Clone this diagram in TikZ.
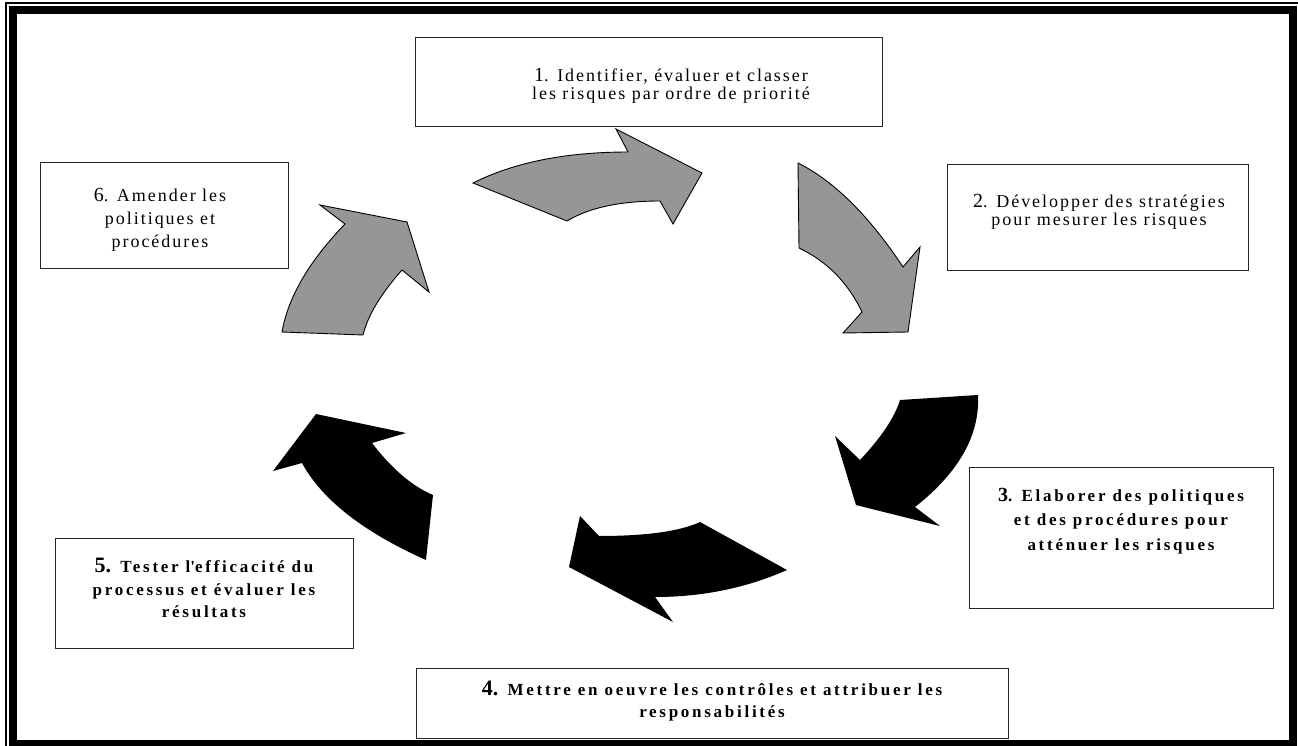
\documentclass[tikz,border=0pt]{standalone}
\usepackage{fontspec}
\setmainfont{Liberation Serif}[LetterSpace=11]
\newfontfamily\numfont{Liberation Serif}
\usetikzlibrary{positioning}
\definecolor{arrowgray}{HTML}{969696}
\newcommand\stepno[1]{{\numfont\fontsize{20}{20}\selectfont #1}}
\newcommand\boldno[1]{{\numfont\fontsize{22}{22}\selectfont\bfseries #1}}

\begin{document}
\begin{tikzpicture}[x=1pt,y=-1pt,
  box/.style={draw=black!85, line width=1pt, inner sep=0pt, anchor=north west},
  txt/.style={font=\fontsize{18}{18}\selectfont, align=center, inner sep=0pt},
  boldtxt/.style={font=\fontsize{17}{24.5}\selectfont\bfseries\addfontfeature{LetterSpace=16}, align=center, inner sep=0pt},
  grayarrow/.style={fill=arrowgray, draw=black, line width=0.9pt, line join=miter},
  blackarrow/.style={fill=black}]

\useasboundingbox (0,0) rectangle (1298,746);

% page frame
\draw[line width=1.7pt] (6,746) -- (6,2.7) -- (1298,2.7);
\draw[line width=8.2pt] (12.8,9.9) rectangle (1292.8,744.2);

% boxes
\node[box, minimum width=467, minimum height=89] (b1) at (415,37) {};
\node[box, minimum width=301, minimum height=106] (b2) at (947,164) {};
\node[box, minimum width=304, minimum height=141] (b3) at (969,467) {};
\node[box, minimum width=592, minimum height=70] (b4) at (416,668) {};
\node[box, minimum width=298, minimum height=110] (b5) at (55,538) {};
\node[box, minimum width=248, minimum height=106] (b6) at (40,162) {};

\node[txt] (t1) at (671,86) {\stepno{1}. Identifier, évaluer et classer\\les risques par ordre de priorité};
\node[txt] (t2) at (1099,212) {\stepno{2}. Développer des stratégies\\pour mesurer les risques};
\node[boldtxt] (t3) at (1121,521) {\stepno{3}. Elaborer des politiques\\et des procédures pour\\atténuer les risques};
\node[boldtxt, font=\fontsize{17}{22}\selectfont\bfseries\addfontfeature{LetterSpace=16}] (t4) at (712,701) {\boldno{4.} Mettre en oeuvre les contrôles et attribuer les\\responsabilités};
\node[boldtxt, font=\fontsize{17}{22.5}\selectfont\bfseries\addfontfeature{LetterSpace=16}] (t5) at (204,588) {\boldno{5.} Tester l\textquotesingle efficacité du\\processus et évaluer les\\résultats};
\node[txt, font=\fontsize{18}{23}\selectfont] (t6) at (160,220) {\stepno{6}. Amender les\\politiques et\\procédures};

% cycle arrows
\filldraw[grayarrow] (473,183) .. controls (514.3,162.3) and (566,152) .. (628,152)
  -- (616,129) -- (702,173) -- (673,224) -- (660,201)
  .. controls (620,201) and (589,207.7) .. (567,221) -- cycle;
\filldraw[grayarrow] (798,163) .. controls (834,181) and (869,215.7) .. (903,267)
  -- (920,247) -- (908,332) -- (843,333) -- (862,312)
  .. controls (848,282.7) and (827,261.3) .. (799,248) -- cycle;
\fill[blackarrow] (978,395) .. controls (980,435) and (959,472.3) .. (915,507)
  -- (940,526) -- (856,505) -- (835,436) -- (860,460)
  .. controls (881.3,437.3) and (894.7,417.3) .. (900,400) -- cycle;
\fill[blackarrow] (569,567) -- (580,516) -- (599,536)
  .. controls (646.3,536) and (680,531.3) .. (700,522) -- (787,570)
  .. controls (746.3,588) and (702.3,597) .. (655,597) -- (673,622) -- cycle;
\fill[blackarrow] (316,414) -- (406,433) -- (372,443)
  .. controls (392,469) and (412.3,486.3) .. (433,495) -- (426,560)
  .. controls (363.3,532) and (322,499.7) .. (302,463) -- (273,471) -- cycle;
\filldraw[grayarrow] (282,332) .. controls (288,297.3) and (309,261.3) .. (345,224)
  -- (320,205) -- (407,222) -- (429,292) -- (402,270)
  .. controls (380.7,294) and (367.7,315.7) .. (363,335) -- cycle;

\end{tikzpicture}
\end{document}
